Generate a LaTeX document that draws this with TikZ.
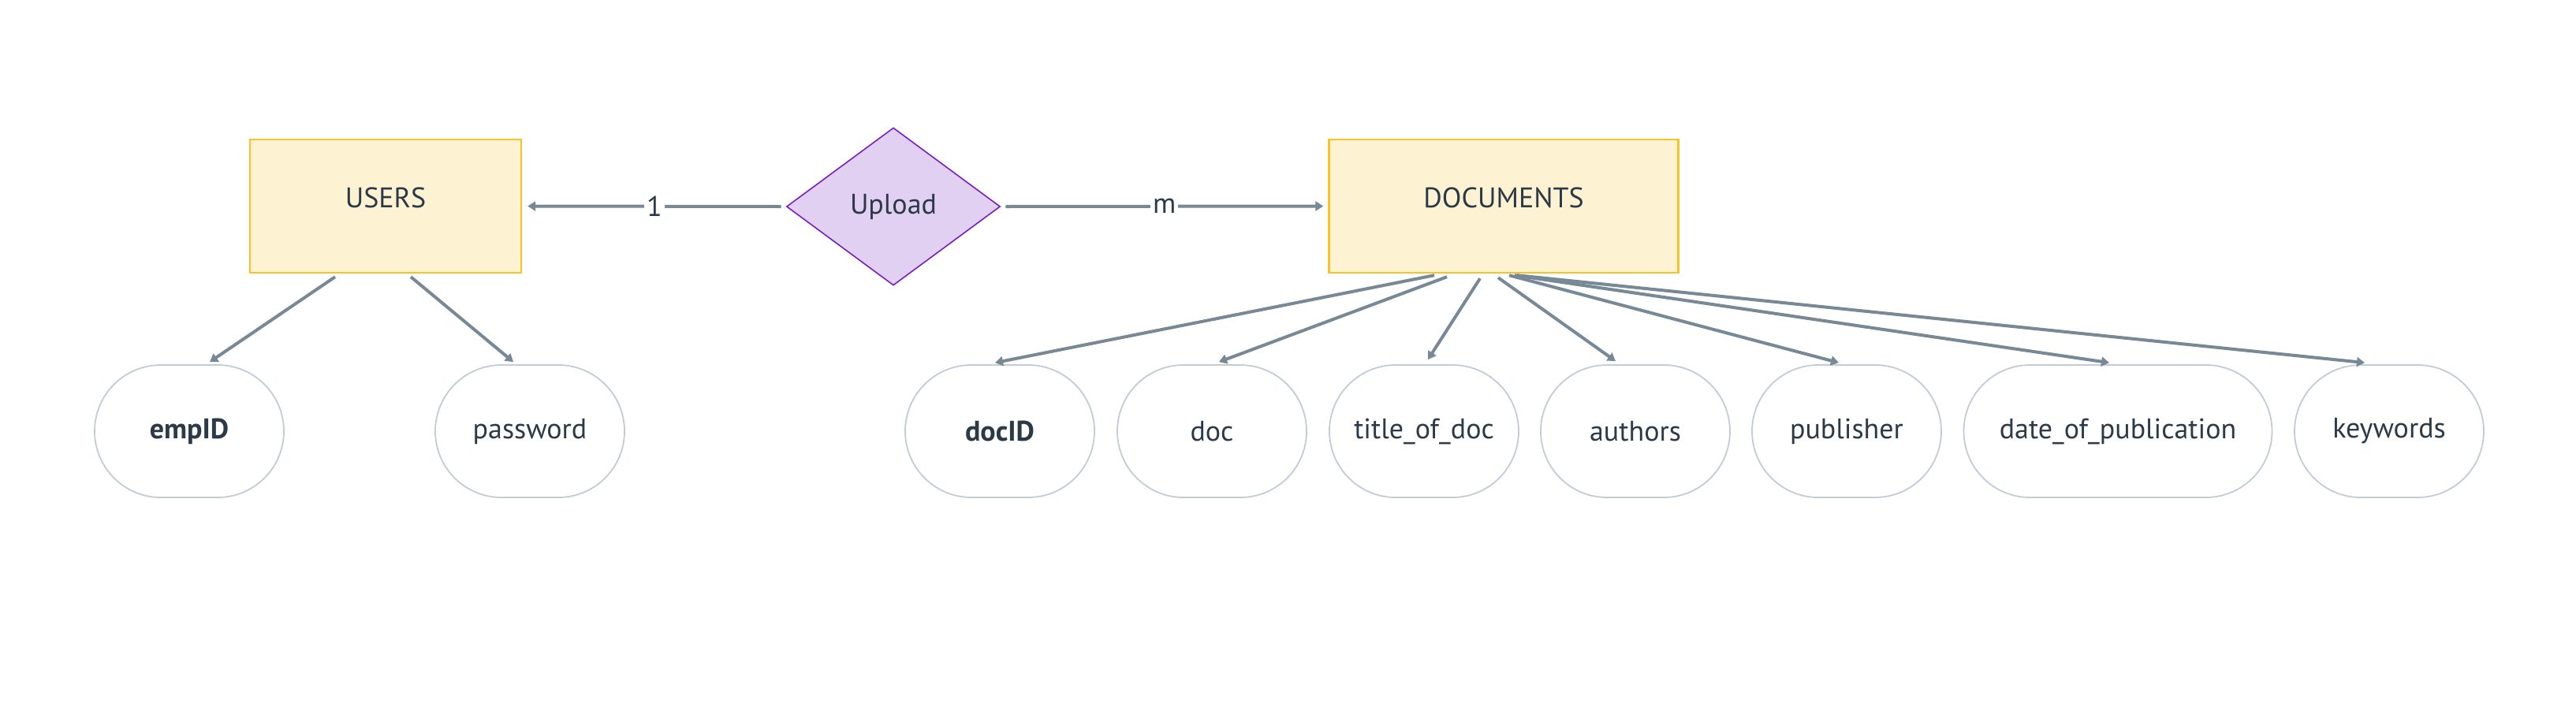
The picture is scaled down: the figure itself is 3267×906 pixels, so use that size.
\documentclass[tikz,border=0pt]{standalone}
\usepackage{fontspec}
\setmainfont{PT Sans}
\usetikzlibrary{shapes.geometric,arrows.meta,calc}
\definecolor{entfill}{RGB}{253,242,210}
\definecolor{entdraw}{RGB}{248,194,40}
\definecolor{relfill}{RGB}{226,208,243}
\definecolor{reldraw}{RGB}{120,30,200}
\definecolor{attdraw}{RGB}{194,204,216}
\definecolor{linecol}{RGB}{119,136,150}
\definecolor{txtcol}{RGB}{43,58,72}
\tikzset{
  x=0.5pt, y=-0.5pt,
  every node/.style={font=\fontsize{18pt}{21pt}\selectfont, text=txtcol},
  entity/.style={draw=entdraw, fill=entfill, line width=1.2pt, rectangle, minimum height=84.5pt, inner sep=0pt},
  relation/.style={draw=reldraw, fill=relfill, line width=0.8pt, diamond, minimum width=135.5pt, minimum height=100pt, inner sep=0pt},
  attrib/.style={draw=attdraw, fill=white, line width=0.9pt, rectangle, rounded corners=42pt, minimum height=84pt, minimum width=120pt, inner sep=0pt},
  conn/.style={draw=linecol, line width=2pt, -{Triangle[length=5pt,width=6pt]}},
  card/.style={fill=white, inner sep=1.5pt}
}
\begin{document}
\begin{tikzpicture}
\useasboundingbox (0,0) rectangle (3267,906);
% entities and relation
\node[entity, minimum width=172pt] (users) at (489,261.5) {\raisebox{11pt}{USERS}};
\node[relation] (upload) at (1133,262) {Upload};
\node[entity, minimum width=221.5pt] (documents) at (1907,261.5) {\raisebox{11pt}{DOCUMENTS}};
% attributes
\node[attrib] (empid) at (240,547) {\textbf{empID}};
\node[attrib] (password) at (672,547) {password};
\node[attrib] (docid) at (1268,547) {\textbf{docID}};
\node[attrib] (doc) at (1537,547) {doc};
\node[attrib] (title) at (1806,547) {title\_of\_doc};
\node[attrib] (authors) at (2074,547) {authors};
\node[attrib] (publisher) at (2342,547) {publisher};
\node[attrib, minimum width=195.5pt] (date) at (2686,547) {date\_of\_publication};
\node[attrib] (keywords) at (3030,547) {keywords};
% relationship connectors
\draw[conn] ($(upload.west)+(-6,0)$) -- node[card] {1} ($(users.east)+(7,0)$);
\draw[conn] ($(upload.east)+(6,0)$) -- node[card] {m} ($(documents.west)+(-6,0)$);
% attribute connectors
\draw[conn] ($(users.south)+(-64,4)$) -- ($(empid.north)+(26,-3)$);
\draw[conn] ($(users.south)+(32,4)$) -- ($(password.north)+(-21,-3)$);
\draw[conn] ($(documents.south)+(-88,2)$) -- ($(docid.north)+(-6,-2)$);
\draw[conn] ($(documents.south)+(-72,4)$) -- ($(doc.north)+(9,-3)$);
\draw[conn] ($(documents.south)+(-30,6)$) -- ($(title.north)+(5,-6)$);
\draw[conn] ($(documents.south)+(-7,5)$) -- ($(authors.north)+(-25,-4)$);
\draw[conn] ($(documents.south)+(7,2)$) -- ($(publisher.north)+(-10,-2)$);
\draw[conn] ($(documents.south)+(14,2)$) -- ($(date.north)+(-11,-2)$);
\draw[conn] ($(documents.south)+(17,2)$) -- ($(keywords.north)+(-31,-2)$);
\end{tikzpicture}
\end{document}
